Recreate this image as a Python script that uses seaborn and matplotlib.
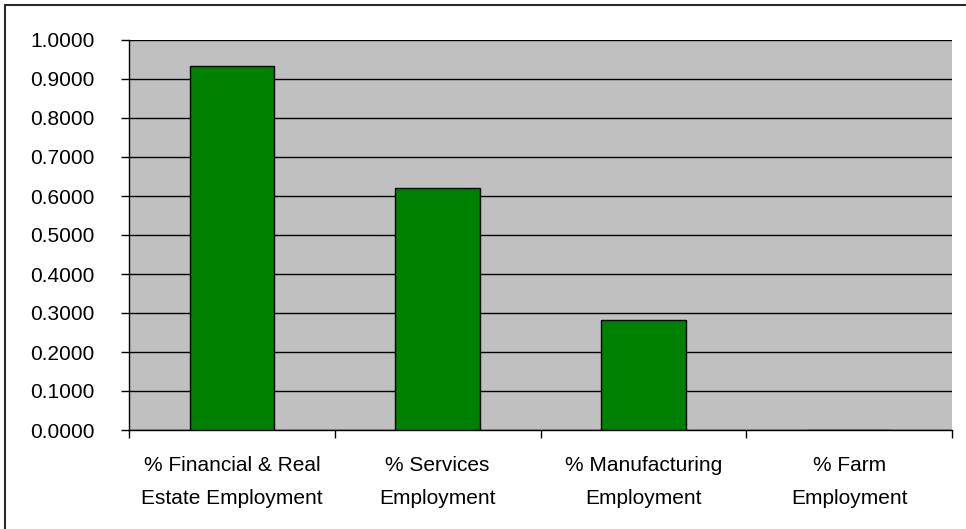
import matplotlib
matplotlib.use("Agg")
import matplotlib.pyplot as plt
from matplotlib.lines import Line2D
from matplotlib.ticker import FixedLocator, FormatStrFormatter
import seaborn as sns
import pandas as pd

categories = [
    "% Financial & Real\nEstate Employment",
    "% Services\nEmployment",
    "% Manufacturing\nEmployment",
    "% Farm\nEmployment",
]
values = [0.933, 0.6205, 0.281, 0.0]
y_ticks = [0.0, 0.1, 0.2, 0.3, 0.4, 0.5, 0.6, 0.7, 0.8, 0.9, 1.0]

sns.set_theme(style="white")
plt.rcParams["font.family"] = ["Liberation Sans", "DejaVu Sans"]

W, H, DPI = 966, 529, 100
fig = plt.figure(figsize=(W / DPI, H / DPI), dpi=DPI, facecolor="white")
ax = fig.add_axes([129 / W, (H - 430) / H, (952 - 129) / W, (430 - 40) / H])
ax.set_facecolor("#C0C0C0")

df = pd.DataFrame({"category": categories, "share": values})
sns.barplot(data=df, x="category", y="share", color="#008000", saturation=1,
            width=0.41, edgecolor="black", linewidth=1.0, ax=ax, zorder=3)

ax.set_xlim(-0.5, len(categories) - 0.5)
ax.set_ylim(y_ticks[0], y_ticks[-1])
ax.set_yticks(y_ticks)
ax.yaxis.set_major_formatter(FormatStrFormatter("%.4f"))
ax.yaxis.grid(True, color="black", linewidth=1.0, zorder=1)
ax.set_axisbelow(True)

# category separators as minor ticks below the axis
ax.xaxis.set_minor_locator(FixedLocator([i - 0.5 for i in range(len(categories) + 1)]))
ax.tick_params(axis="x", which="major", length=0, pad=19, labelsize=15, colors="black")
ax.tick_params(axis="x", which="minor", length=6, width=1.0, color="black", bottom=True)
ax.tick_params(axis="y", which="major", length=6, width=1.0, color="black", left=True,
               pad=19, labelsize=15, labelcolor="black")
for lab in ax.get_xticklabels():
    lab.set_linespacing(1.9)
    lab.set_multialignment("center")

ax.set_xlabel("")
ax.set_ylabel("")
for side in ("top", "right"):
    ax.spines[side].set_visible(False)
for side in ("left", "bottom"):
    ax.spines[side].set_color("black")
    ax.spines[side].set_linewidth(1.0)

# outer frame along the top and left edges
fig.add_artist(Line2D([5 / W, 1], [1 - 5 / H, 1 - 5 / H], transform=fig.transFigure,
                      color="#2a2a2a", linewidth=1.5))
fig.add_artist(Line2D([5 / W, 5 / W], [0, 1 - 5 / H], transform=fig.transFigure,
                      color="#2a2a2a", linewidth=1.5))

fig.savefig("out.png", dpi=DPI, facecolor="white")
